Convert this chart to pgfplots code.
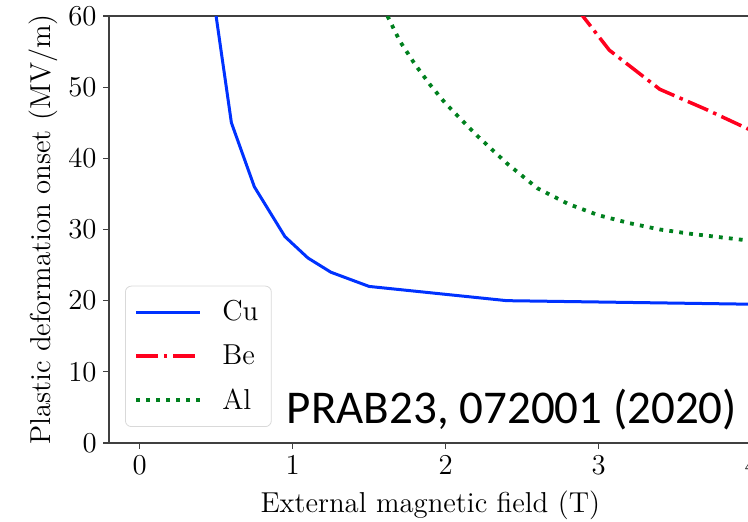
\documentclass[border=0pt]{standalone}
\usepackage{fontspec}
\usepackage{pgfplots}
\pgfplotsset{compat=1.18}
\newfontfamily\carlito{Carlito}
\definecolor{cublue}{RGB}{0,50,255}
\definecolor{bered}{RGB}{255,0,30}
\definecolor{algreen}{RGB}{0,128,30}
\begin{document}
\begin{tikzpicture}
\begin{axis}[
  scale only axis, width=321.3pt, height=213.5pt,
  xmin=-0.2, xmax=4.0, ymin=0, ymax=60,
  xtick={0,1,2,3,4}, ytick={0,10,20,30,40,50,60},
  tick pos=left, tick align=outside, major tick length=3pt,
  axis line style={black!75, line width=0.6pt},
  tick style={black!75, line width=0.6pt},
  ticklabel style={font=\Large},
  yticklabel style={inner xsep=3pt},
  xlabel={External magnetic field (T)},
  ylabel={Plastic deformation onset (MV/m)},
  every axis x label/.style={at={(rel axis cs:0.5,0)}, yshift=-31pt, anchor=center, font=\Large},
  every axis y label/.style={at={(rel axis cs:0,0.5)}, xshift=-33pt, rotate=90, anchor=center, font=\Large},
  legend style={at={(0,0)}, anchor=south west, xshift=8pt, yshift=8pt,
    draw=black!15, rounded corners=3pt, fill=white, fill opacity=0.8, text opacity=1,
    font=\Large, inner xsep=4.5pt, inner ysep=5.25pt, row sep=6.5pt},
  legend cell align=left,
  legend image code/.code={\draw[#1] (0pt,0pt) -- (32pt,0pt); \path[draw=none, fill=none] (0pt,0pt) -- (41pt,0pt);},
]
\coordinate (O) at (rel axis cs:0,0);
\addplot[cublue, line width=1.5pt] coordinates {
  (0.5,60) (0.6,45) (0.75,36) (0.95,29) (1.1,26) (1.25,24) (1.5,22) (2.4,20) (4.0,19.5)};
\addlegendentry{Cu}
\addplot[bered, line width=1.75pt, dash pattern=on 11pt off 2.8pt on 1.75pt off 2.8pt] coordinates {
  (2.86,61) (3.07,55.2) (3.4,49.7) (3.7,46.9) (4.0,43.9)};
\addlegendentry{Be}
\addplot[algreen, line width=1.9pt, dash pattern=on 1.9pt off 3.1pt] coordinates {
  (1.62,60) (1.7,56.5) (1.8,53.2) (1.9,50.3) (2.0,47.7) (2.2,43.3) (2.4,39.3) (2.6,35.8)
  (2.8,33.6) (3.0,32.0) (3.2,30.9) (3.4,30.0) (3.6,29.4) (3.8,28.9) (4.0,28.4)};
\addlegendentry{Al}
\node[anchor=base west, inner sep=0pt, font=\carlito\fontsize{23.5}{28}\selectfont] at (axis cs:0.96,2.8) {PRAB23, 072001 (2020)};
\end{axis}
\pgfresetboundingbox
\path[use as bounding box] ([shift={(-54.5pt,-39.5pt)}]O) rectangle ([shift={(319.5pt,221.5pt)}]O);
\end{tikzpicture}
\end{document}
